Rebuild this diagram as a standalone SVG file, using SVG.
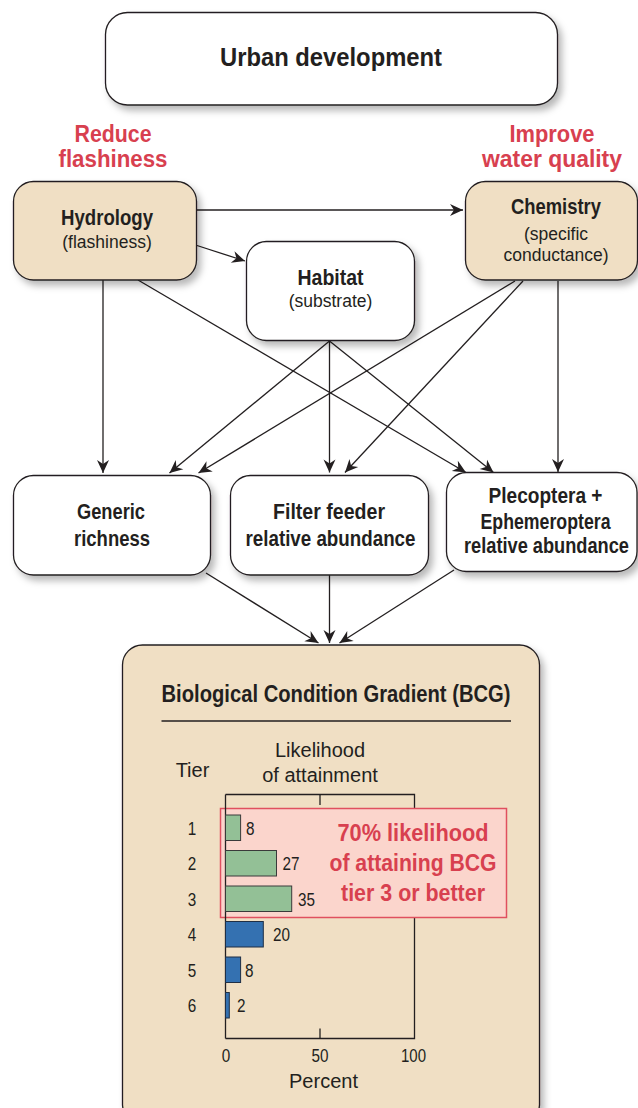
<svg xmlns="http://www.w3.org/2000/svg" width="638" height="1108" viewBox="0 0 638 1108">
<style>
.box{stroke:#231f20;stroke-width:1.3;filter:url(#sh)}
.w{fill:#ffffff}
.tan{fill:#f0dfc4}
.b{font-family:"Liberation Sans",Arial,sans-serif;font-weight:bold;fill:#231f20;text-anchor:middle}
.r{font-family:"Liberation Sans",Arial,sans-serif;fill:#231f20;text-anchor:middle}
.n{font-family:"Liberation Sans",Arial,sans-serif;fill:#231f20}
.red{fill:#d8404f}
.c{fill:none;stroke:#231f20;stroke-width:1.3;marker-end:url(#ah)}
.ax{fill:none;stroke:#231f20;stroke-width:1.3}
.g{fill:#93c096;stroke:#3a3a3a;stroke-width:1}
.bl{fill:#3471b1;stroke:#1f2f45;stroke-width:1}
</style>
<defs>
<filter id="sh" x="-10%" y="-10%" width="130%" height="140%">
<feDropShadow dx="4" dy="5" stdDeviation="3.5" flood-color="#000" flood-opacity="0.28"/>
</filter>
<marker id="ah" viewBox="-14 -7 15 14" refX="0" refY="0" markerWidth="15" markerHeight="14" markerUnits="userSpaceOnUse" orient="auto">
<path d="M0,0 L-13,-6 L-9,0 L-13,6 Z" fill="#231f20"/>
</marker>
</defs>
<rect width="638" height="1108" fill="#ffffff"/>

<g id="urban">
<rect class="box w" x="105.5" y="12.5" width="452" height="92.5" rx="22"/>
<text class="b" x="331" y="66" font-size="26" textLength="222" lengthAdjust="spacingAndGlyphs">Urban development</text>
</g>

<g id="label-reduce">
<text class="b red" x="113" y="141.5" font-size="23" textLength="77" lengthAdjust="spacingAndGlyphs">Reduce</text>
<text class="b red" x="113" y="166.5" font-size="23" textLength="109" lengthAdjust="spacingAndGlyphs">flashiness</text>
</g>
<g id="label-improve">
<text class="b red" x="552" y="141.5" font-size="23" textLength="85" lengthAdjust="spacingAndGlyphs">Improve</text>
<text class="b red" x="552" y="166.5" font-size="23" textLength="140" lengthAdjust="spacingAndGlyphs">water quality</text>
</g>

<g id="connectors">
<path class="c" d="M196,210 L463,210"/>
<path class="c" d="M197,245.5 L245,261"/>
<path class="c" d="M103,280 L103,473"/>
<path class="c" d="M138,280 L466,472.5"/>
<path class="c" d="M515,281 L198.5,473"/>
<path class="c" d="M523,281 L345,472.5"/>
<path class="c" d="M558,281 L558,472"/>
<path class="c" d="M329.5,341 L169.5,473"/>
<path class="c" d="M329.5,341 L329.5,472.5"/>
<path class="c" d="M329.5,341 L493.5,472.5"/>
<path class="c" d="M206,573 L318.5,643"/>
<path class="c" d="M329.5,575 L329.5,643"/>
<path class="c" d="M454,570 L339.5,643"/>
</g>

<g id="hydrology">
<rect class="box tan" x="13.5" y="181.5" width="183" height="98.5" rx="20"/>
<text class="b" x="107" y="224.5" font-size="22.5" textLength="92" lengthAdjust="spacingAndGlyphs">Hydrology</text>
<text class="r" x="107" y="248" font-size="17.5">(flashiness)</text>
</g>

<g id="chemistry">
<rect class="box tan" x="465.5" y="181.5" width="172" height="98.5" rx="20"/>
<text class="b" x="556" y="213.5" font-size="22.5" textLength="90" lengthAdjust="spacingAndGlyphs">Chemistry</text>
<text class="r" x="556" y="240" font-size="17.5">(specific</text>
<text class="r" x="556" y="261" font-size="17.5">conductance)</text>
</g>

<g id="habitat">
<rect class="box w" x="246.5" y="241.5" width="168" height="99" rx="20"/>
<text class="b" x="330.5" y="285" font-size="22.5" textLength="66" lengthAdjust="spacingAndGlyphs">Habitat</text>
<text class="r" x="330.5" y="306.5" font-size="17.5">(substrate)</text>
</g>

<g id="generic">
<rect class="box w" x="13.5" y="475.5" width="197" height="99.5" rx="20"/>
<text class="b" x="111" y="518.5" font-size="22.5" textLength="68" lengthAdjust="spacingAndGlyphs">Generic</text>
<text class="b" x="112" y="545.5" font-size="22.5" textLength="76" lengthAdjust="spacingAndGlyphs">richness</text>
</g>

<g id="filter">
<rect class="box w" x="230.5" y="475.5" width="198" height="99.5" rx="20"/>
<text class="b" x="329" y="518.5" font-size="22.5" textLength="112" lengthAdjust="spacingAndGlyphs">Filter feeder</text>
<text class="b" x="330.5" y="545.5" font-size="22.5" textLength="170" lengthAdjust="spacingAndGlyphs">relative abundance</text>
</g>

<g id="plecoptera">
<rect class="box w" x="446.5" y="472.5" width="190.5" height="99" rx="20"/>
<text class="b" transform="translate(545.5,503) scale(0.83,1)" x="0" y="0" font-size="22.5" textLength="137.3" lengthAdjust="spacingAndGlyphs">Plecoptera +</text>
<text class="b" transform="translate(545.5,529) scale(0.83,1)" x="0" y="0" font-size="22.5" textLength="156.6" lengthAdjust="spacingAndGlyphs">Ephemeroptera</text>
<text class="b" transform="translate(546.5,553) scale(0.83,1)" x="0" y="0" font-size="22.5" textLength="198.8" lengthAdjust="spacingAndGlyphs">relative abundance</text>
</g>

<g id="bcg">
<rect class="box tan" x="122.5" y="645" width="417" height="480" rx="20"/>
<text class="b" x="336" y="701.5" font-size="23" textLength="349" lengthAdjust="spacingAndGlyphs">Biological Condition Gradient (BCG)</text>
<line x1="161.5" y1="721" x2="511" y2="721" stroke="#231f20" stroke-width="1.3"/>
<text class="r" x="192.5" y="777" font-size="20">Tier</text>
<text class="r" x="320" y="756.5" font-size="20">Likelihood</text>
<text class="r" x="320" y="781.5" font-size="20">of attainment</text>
<path class="ax" d="M225.5,794.5 H414.5 V1038.5 H225.5"/>
<line x1="320" y1="794.5" x2="320" y2="805" stroke="#231f20" stroke-width="1.3"/>
<line x1="320" y1="1028.5" x2="320" y2="1038.5" stroke="#231f20" stroke-width="1.3"/>
<rect x="220.5" y="808.5" width="286" height="109" fill="#fbd5cc" stroke="#e0505f" stroke-width="1.5"/>
<line x1="225.5" y1="794.5" x2="225.5" y2="1038.5" stroke="#231f20" stroke-width="1.3"/>
<rect class="g" x="225.5" y="815" width="15.1" height="25.5"/>
<rect class="g" x="225.5" y="850.5" width="51" height="25.5"/>
<rect class="g" x="225.5" y="886" width="66.2" height="25.5"/>
<rect class="bl" x="225.5" y="921.5" width="37.8" height="25.5"/>
<rect class="bl" x="225.5" y="957" width="15.1" height="25.5"/>
<rect class="bl" x="225.5" y="992.5" width="3.8" height="25.5"/>
<g class="n" font-size="18" text-anchor="middle">
<text x="192" y="834.5" textLength="8.5" lengthAdjust="spacingAndGlyphs">1</text>
<text x="192" y="870" textLength="8.5" lengthAdjust="spacingAndGlyphs">2</text>
<text x="192" y="905.5" textLength="8.5" lengthAdjust="spacingAndGlyphs">3</text>
<text x="192" y="941" textLength="8.5" lengthAdjust="spacingAndGlyphs">4</text>
<text x="192" y="976.5" textLength="8.5" lengthAdjust="spacingAndGlyphs">5</text>
<text x="192" y="1012" textLength="8.5" lengthAdjust="spacingAndGlyphs">6</text>
<text x="226" y="1061.5" textLength="8.5" lengthAdjust="spacingAndGlyphs">0</text>
<text x="320" y="1061.5" textLength="17" lengthAdjust="spacingAndGlyphs">50</text>
<text x="413.5" y="1061.5" textLength="25" lengthAdjust="spacingAndGlyphs">100</text>
</g>
<g class="n" font-size="18">
<text x="246" y="834.5" textLength="8.5" lengthAdjust="spacingAndGlyphs">8</text>
<text x="282.5" y="870" textLength="17" lengthAdjust="spacingAndGlyphs">27</text>
<text x="298" y="905.5" textLength="17" lengthAdjust="spacingAndGlyphs">35</text>
<text x="273" y="941" textLength="17" lengthAdjust="spacingAndGlyphs">20</text>
<text x="245" y="976.5" textLength="8.5" lengthAdjust="spacingAndGlyphs">8</text>
<text x="237" y="1012" textLength="8.5" lengthAdjust="spacingAndGlyphs">2</text>
</g>
<text class="r" x="323.5" y="1088" font-size="20">Percent</text>
<text class="b red" x="413" y="840.5" font-size="23" textLength="151" lengthAdjust="spacingAndGlyphs">70% likelihood</text>
<text class="b red" x="413" y="871" font-size="23" textLength="167" lengthAdjust="spacingAndGlyphs">of attaining BCG</text>
<text class="b red" x="413" y="901" font-size="23" textLength="144" lengthAdjust="spacingAndGlyphs">tier 3 or better</text>
</g>
</svg>
